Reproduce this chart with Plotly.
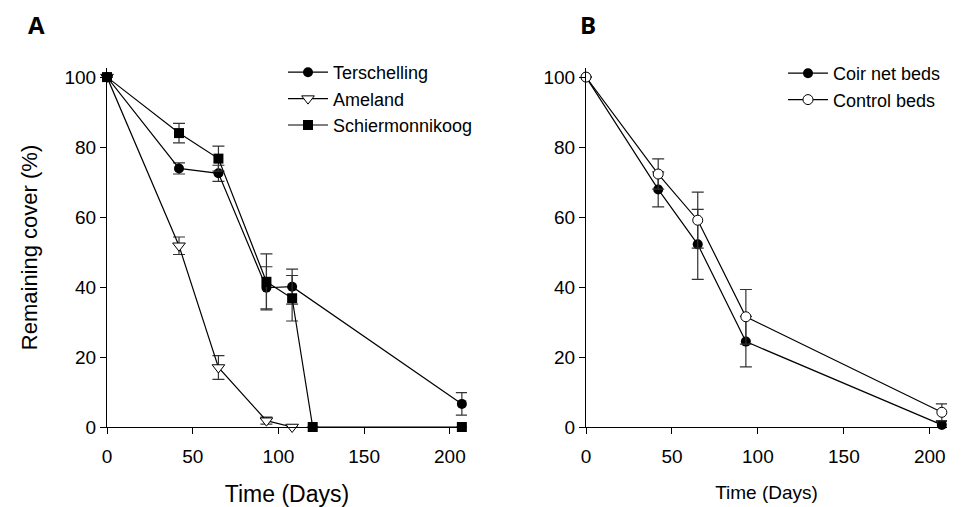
import plotly.graph_objects as go

# ---- Panel A data ----
ters_x = [0, 42, 65, 93, 108, 207]
ters_y = [100, 73.9, 72.5, 39.8, 40.1, 6.6]
ters_e = [0, 1.6, 2.3, 6.0, 5.0, 3.2]

amel_x = [0, 42, 65, 93, 108]
amel_y = [100, 51.8, 17.0, 1.8, 0]
amel_e = [0, 2.5, 3.4, 1.0, 0]

schi_x = [0, 42, 65, 93, 108, 120, 207]
schi_y = [100, 84.0, 76.7, 41.5, 36.8, 0, 0]
schi_e = [0, 2.8, 3.6, 8.0, 6.5, 0, 0]

# ---- Panel B data ----
days_B = [0, 42, 65, 93, 207]
coir_y = [100, 67.9, 52.2, 24.4, 0.6]
coir_e = [0, 5.0, 10.0, 7.2, 1.0]
ctrl_y = [100, 72.3, 59.1, 31.5, 4.2]
ctrl_e = [0, 4.3, 8.0, 7.8, 2.4]

x_ticks = [0, 50, 100, 150, 200]
y_ticks = [0, 20, 40, 60, 80, 100]

FONT = "Liberation Sans, Arial, sans-serif"
OFF = 8  # page body margin
W, H = 973 - OFF, 507 - OFF


def px(x):
    return (x - OFF) / W


def py(y):
    return 1 - (y - OFF) / H


def err(vals):
    return dict(type="data", array=vals, visible=True, color="#333333",
                thickness=1.2, width=6)


def line_style():
    return dict(color="black", width=1.2)


fig = go.Figure()

fig.add_trace(go.Scatter(
    x=ters_x, y=ters_y, error_y=err(ters_e), mode="lines+markers",
    name="Terschelling", line=line_style(),
    marker=dict(symbol="circle", size=10, color="black"),
    xaxis="x", yaxis="y", legend="legend", cliponaxis=False))
fig.add_trace(go.Scatter(
    x=amel_x, y=amel_y, error_y=err(amel_e), mode="lines+markers",
    name="Ameland", line=line_style(),
    marker=dict(symbol="triangle-down", size=11, color="white",
                line=dict(color="black", width=1)),
    xaxis="x", yaxis="y", legend="legend", cliponaxis=False))
fig.add_trace(go.Scatter(
    x=schi_x, y=schi_y, error_y=err(schi_e), mode="lines+markers",
    name="Schiermonnikoog", line=line_style(),
    marker=dict(symbol="square", size=10, color="black"),
    xaxis="x", yaxis="y", legend="legend", cliponaxis=False))

fig.add_trace(go.Scatter(
    x=days_B, y=coir_y, error_y=err(coir_e), mode="lines+markers",
    name="Coir net beds", line=line_style(),
    marker=dict(symbol="circle", size=10, color="black"),
    xaxis="x2", yaxis="y2", legend="legend2", cliponaxis=False))
fig.add_trace(go.Scatter(
    x=days_B, y=ctrl_y, error_y=err(ctrl_e), mode="lines+markers",
    name="Control beds", line=line_style(),
    marker=dict(symbol="circle", size=10, color="white",
                line=dict(color="black", width=1)),
    xaxis="x2", yaxis="y2", legend="legend2", cliponaxis=False))

axis_common = dict(showline=True, linecolor="black", linewidth=1.2,
                   ticks="outside", ticklen=6, tickwidth=1.2, tickcolor="black",
                   showgrid=False, zeroline=False, mirror=False,
                   automargin=False,
                   tickfont=dict(family=FONT, size=19, color="black"))

ydom = [py(427), py(68)]

fig.update_layout(
    width=W, height=H,
    margin=dict(l=0, r=0, t=0, b=0),
    paper_bgcolor="white", plot_bgcolor="white",
    font=dict(family=FONT, color="black"),
    xaxis=dict(domain=[px(107), px(467)], range=[0, 210], tickvals=x_ticks,
               anchor="y", ticklabelstandoff=6,
               title=dict(text="Time (Days)", font=dict(size=23, family=FONT),
                          standoff=20),
               **axis_common),
    yaxis=dict(domain=ydom, range=[0, 102.6], tickvals=y_ticks, anchor="x",
               title=dict(text="Remaining cover (%)",
                          font=dict(size=22, family=FONT), standoff=20),
               **axis_common),
    xaxis2=dict(domain=[px(586), px(947)], range=[0, 210], tickvals=x_ticks,
                anchor="y2", ticklabelstandoff=6,
                title=dict(text="Time (Days)", font=dict(size=19, family=FONT),
                           standoff=19),
                **axis_common),
    yaxis2=dict(domain=ydom, range=[0, 102.6], tickvals=y_ticks, anchor="x2",
                **axis_common),
    legend=dict(x=px(283), y=py(54), xanchor="left", yanchor="top",
                bgcolor="rgba(0,0,0,0)", borderwidth=0,
                font=dict(family=FONT, size=18, color="black"),
                tracegroupgap=0, itemwidth=40),
    legend2=dict(x=px(783), y=py(55), xanchor="left", yanchor="top",
                 bgcolor="rgba(0,0,0,0)", borderwidth=0,
                 font=dict(family=FONT, size=18, color="black"),
                 tracegroupgap=0, itemwidth=40),
    showlegend=True,
    annotations=[
        dict(text="<b>A</b>", x=px(26), y=py(24), xref="paper", yref="paper",
             xanchor="left", yanchor="middle", showarrow=False,
             font=dict(family="Open Sans, sans-serif", size=24, color="black")),
        dict(text="<b>B</b>", x=px(578), y=py(24), xref="paper", yref="paper",
             xanchor="left", yanchor="middle", showarrow=False,
             font=dict(family="Open Sans, sans-serif", size=24, color="black")),
    ],
)

fig.write_html("out.html")
